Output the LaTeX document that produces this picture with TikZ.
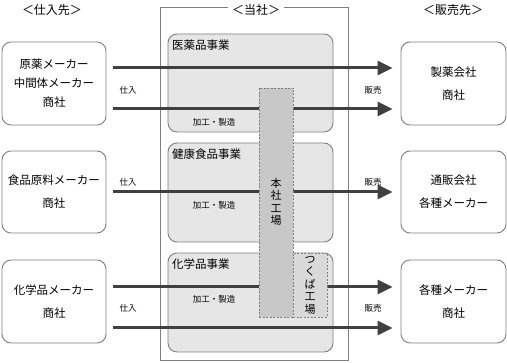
\documentclass[tikz,border=0pt]{standalone}
\usepackage{fontspec}
\setmainfont{Noto Sans CJK JP}
\usetikzlibrary{arrows.meta}
\definecolor{linegray}{HTML}{7F7F7F}
\definecolor{deptfill}{HTML}{E6E6E6}
\definecolor{honshafill}{HTML}{C8C8C8}
\definecolor{tsukubafill}{HTML}{D9D9D9}
\definecolor{arrgray}{HTML}{404040}
\newcommand{\dept}[4]{\node[dept, minimum height=#3] (#1) at (250.5,#2) {}; \node[anchor=north west, font=\fontsize{11.5}{14}\selectfont] (#1-title) at ([xshift=1,yshift=-3]#1.north west) {#4};}

\begin{document}
\begin{tikzpicture}[x = 1pt, y = -1pt,
  party/.style = {draw = linegray, line width = 0.9pt, rounded corners = 9pt, fill = white, minimum width = 104pt, align = center, font = \fontsize{11.5}{23}\selectfont},
  dept/.style = {draw = linegray, line width = 0.9pt, rounded corners = 9pt, fill = deptfill, minimum width = 165pt},
  flow/.style = {draw = arrgray, line width = 3pt, -{Triangle[length = 15pt, width = 14pt]}, shorten < = 7pt, shorten > = 8pt},
  factory/.style = {draw = linegray, line width = 0.8pt, dash pattern = on 2pt off 1.5pt, minimum width = 34pt, inner sep = 0pt, align = center, font = \fontsize{11}{12.5}\selectfont},
  vtext/.style = {inner sep = 0pt, align = center, font = \fontsize{11}{12.5}\selectfont},
  small/.style = {font = \fontsize{8.5}{10}\selectfont},
  head/.style = {font = \fontsize{12}{14}\selectfont}]
\useasboundingbox (0,0) rectangle (507,363);
% headings
\node[head] (hd-in) at (52,10) {＜仕入先＞};
\node[head] (hd-out) at (453,10) {＜販売先＞};
\draw[linegray, line width = 1pt] (160,8) rectangle (348,361);
\node[head, fill = white, inner xsep = 4pt] (hd-self) at (256,10) {＜当社＞};
% suppliers and customers
\node[party, minimum height = 83pt, font = \fontsize{11.5}{19}\selectfont] (sup1) at (54,83.5) {原薬メーカー\\中間体メーカー\\商社};
\node[party, minimum height = 82pt] (sup2) at (54,192) {食品原料メーカー\\商社};
\node[party, minimum height = 83pt] (sup3) at (54,301.5) {化学品メーカー\\商社};
\node[party, minimum width = 105pt, minimum height = 83pt] (cus1) at (453.5,83.5) {製薬会社\\商社};
\node[party, minimum width = 105pt, minimum height = 82pt] (cus2) at (453.5,192) {通販会社\\各種メーカー};
\node[party, minimum width = 105pt, minimum height = 83pt] (cus3) at (453.5,301.5) {各種メーカー\\商社};
% business units
\dept{med}{83}{98pt}{医薬品事業}
\dept{food}{192.5}{99pt}{健康食品事業}
\dept{chem}{302.5}{99pt}{化学品事業}
\node[small] (make1) at (214,122) {加工・製造};
\node[small] (make2) at (214,205) {加工・製造};
\node[small] (make3) at (214,299) {加工・製造};
% flows
\coordinate (r1a) at (0,68);
\coordinate (r1b) at (0,109);
\coordinate (r3a) at (0,287);
\coordinate (r3b) at (0,328);
\draw[flow] (sup1.east |- r1a) -- (cus1.west |- r1a);
\draw[flow] (sup1.east |- r1b) -- (cus1.west |- r1b);
\draw[flow] (sup2.east) -- (cus2.west);
\draw[flow] (sup3.east |- r3a) -- (cus3.west |- r3a);
\draw[flow] (sup3.east |- r3b) -- (cus3.west |- r3b);
\node[small] (buy1) at (128,90) {仕入};
\node[small] (buy2) at (128,182) {仕入};
\node[small] (buy3) at (128,308) {仕入};
\node[small] (sell1) at (373,90) {販売};
\node[small] (sell2) at (373,182) {販売};
\node[small] (sell3) at (373,308) {販売};
% plants
\node[factory, fill = honshafill, minimum height = 229pt] (honsha) at (276,202.5) {};
\node[vtext] (honsha-name) at (276,202) {本\\社\\工\\場};
\node[factory, fill = tsukubafill, minimum height = 64pt] (tsukuba) at (310,285) {つ\\く\\ば\\工\\場};
\end{tikzpicture}
\end{document}
